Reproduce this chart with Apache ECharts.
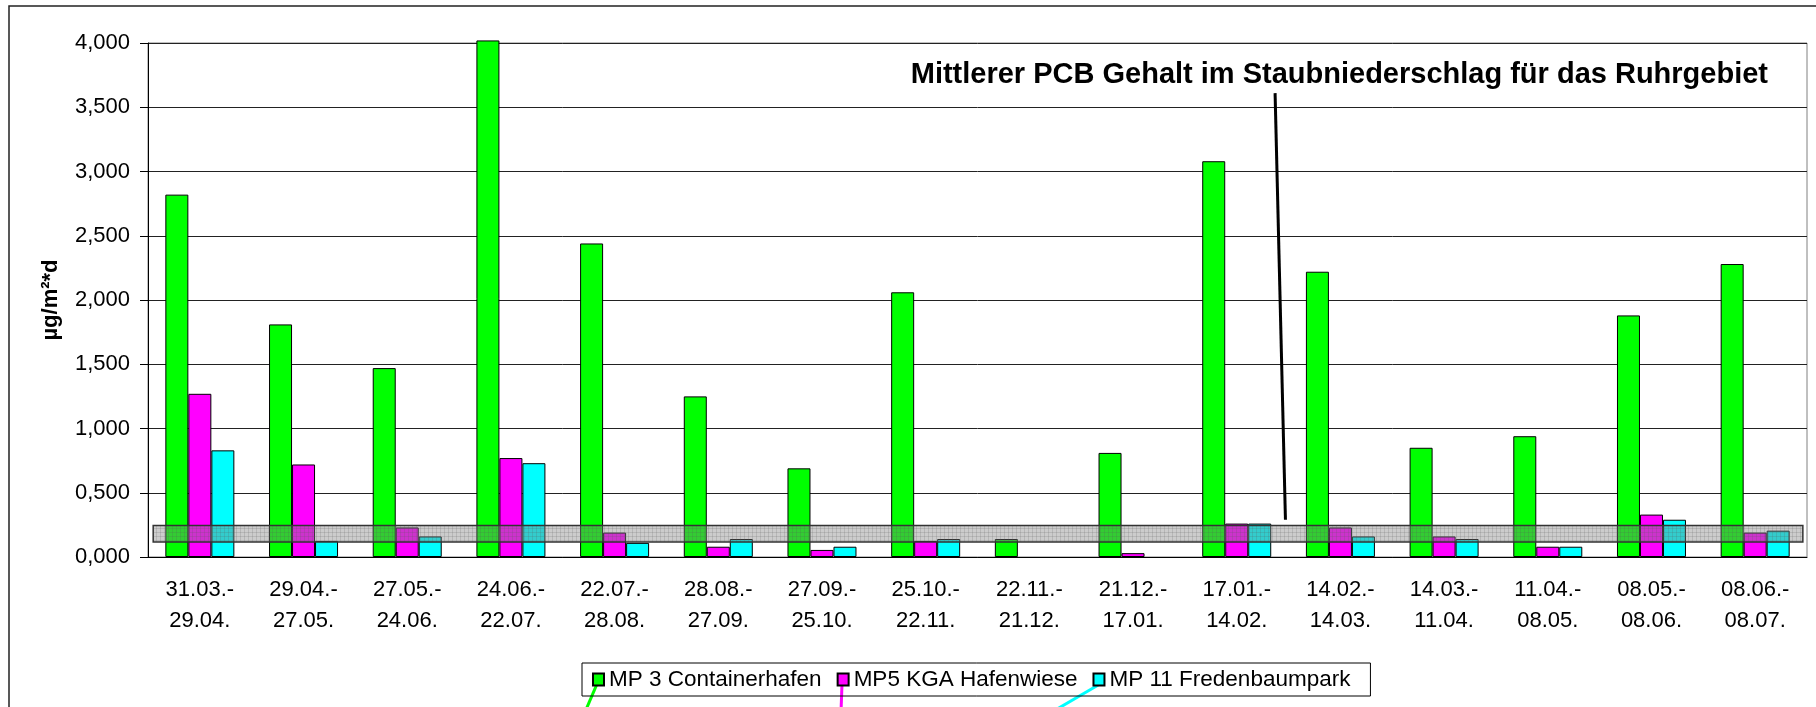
<!DOCTYPE html>
<html>
<head>
<meta charset="utf-8">
<title>PCB Staubniederschlag</title>
<script src="https://cdn.jsdelivr.net/npm/echarts@6/dist/echarts.min.js"></script>
<style>
    html, body { margin: 0; padding: 0; background: #fff; }
    #chart { width: 1816px; height: 707px; }
</style>
</head>
<body>
<div id="chart"></div>
<script>
// Messzeiträume
var categories = [
    '31.03.-\n29.04.', '29.04.-\n27.05.', '27.05.-\n24.06.', '24.06.-\n22.07.',
    '22.07.-\n28.08.', '28.08.-\n27.09.', '27.09.-\n25.10.', '25.10.-\n22.11.',
    '22.11.-\n21.12.', '21.12.-\n17.01.', '17.01.-\n14.02.', '14.02.-\n14.03.',
    '14.03.-\n11.04.', '11.04.-\n08.05.', '08.05.-\n08.06.', '08.06.-\n08.07.'
];
// µg/m²*d
var mp3 = [2.82, 1.81, 1.47, 4.02, 2.44, 1.25, 0.69, 2.06, 0.14, 0.81, 3.08, 2.22, 0.85, 0.94, 1.88, 2.28];
var mp5 = [1.27, 0.72, 0.23, 0.77, 0.19, 0.08, 0.055, 0.125, '-', 0.03, 0.26, 0.23, 0.16, 0.08, 0.33, 0.19];
var mp11 = [0.83, 0.125, 0.16, 0.73, 0.11, 0.14, 0.08, 0.14, '-', '-', 0.26, 0.16, 0.14, 0.08, 0.29, 0.205];

// mittlerer Gehalt Ruhrgebiet (Band) und Hinweislinie, in Achsenwerten
var bandY = [0.117, 0.246];
var bandX = [0.05, 15.96];
var pointerStart = [10.87, 3.61];
var pointerEnd = [10.97, 0.29];
var yTicks = [0, 4, 0.5];

var font = "'Liberation Sans', Arial, sans-serif";

// Rasterfüllung fürs Band
var pat = document.createElement('canvas');
pat.width = 4; pat.height = 4;
var pctx = pat.getContext('2d');
pctx.fillStyle = 'rgba(128,128,128,0.40)';
pctx.fillRect(0, 0, 4, 4);
pctx.fillStyle = 'rgba(90,90,90,0.18)';
pctx.fillRect(0, 0, 4, 1);
pctx.fillRect(0, 0, 1, 4);

function barSeries(name, data, color) {
    return {
        name: name,
        type: 'bar',
        data: data,
        barWidth: 23,
        barGap: 0,
        clip: false,
        itemStyle: { color: color, borderColor: '#000', borderWidth: 1 }
    };
}

var options = {
    animation: false,
    textStyle: { fontFamily: font, color: '#000' },
    grid: {
        left: 148, right: 9, top: 43, bottom: 150,
        show: true, borderColor: '#808080', borderWidth: 1
    },
    legend: {
        left: 582, top: 663,
        padding: [5, 20, 5, 10],
        borderColor: '#000', borderWidth: 1,
        itemWidth: 11, itemHeight: 12, itemGap: 15,
        icon: 'rect',
        textStyle: { fontSize: 22.5, fontFamily: font, color: '#000' },
        data: ['MP 3 Containerhafen', 'MP5 KGA Hafenwiese', 'MP 11 Fredenbaumpark']
    },
    title: {
        text: 'Mittlerer PCB Gehalt im Staubniederschlag für das Ruhrgebiet',
        right: 43, top: 55,
        textStyle: { fontSize: 29, fontWeight: 'bold', fontFamily: font, color: '#000' }
    },
    xAxis: [
        {
            type: 'category',
            data: categories,
            axisLine: { lineStyle: { color: '#000', width: 1 } },
            axisTick: { length: 7, lineStyle: { color: '#000' } },
            axisLabel: { fontSize: 22, lineHeight: 31, margin: 17, color: '#000', interval: 0 },
            splitLine: { show: false }
        },
        { type: 'value', min: 0, max: 16, show: false }
    ],
    yAxis: {
        type: 'value',
        min: yTicks[0], max: yTicks[1], interval: yTicks[2],
        name: 'µg/m²*d',
        nameLocation: 'middle',
        nameGap: 86,
        nameTextStyle: { fontSize: 22, fontWeight: 'bold', color: '#000' },
        axisLine: { show: true, lineStyle: { color: '#000' } },
        axisTick: { show: true, length: 8, lineStyle: { color: '#000' } },
        axisLabel: {
            fontSize: 22, margin: 18, color: '#000',
            formatter: function (v) { return v.toFixed(3).replace('.', ','); }
        },
        splitLine: { lineStyle: { color: '#222', width: 1 } }
    },
    series: [
        barSeries('MP 3 Containerhafen', mp3, '#00ff00'),
        barSeries('MP5 KGA Hafenwiese', mp5, '#ff00ff'),
        barSeries('MP 11 Fredenbaumpark', mp11, '#00ffff'),
        {
            name: 'PCB Ruhrgebiet',
            type: 'line',
            xAxisIndex: 1,
            data: [],
            z: 5,
            silent: true,
            markArea: {
                silent: true,
                z: 10,
                itemStyle: {
                    color: { image: pat, repeat: 'repeat' },
                    borderColor: '#333', borderWidth: 1.5
                },
                data: [[
                    { coord: [bandX[0], bandY[0]] },
                    { coord: [bandX[1], bandY[1]] }
                ]]
            },
            markLine: {
                silent: true,
                z: 10,
                symbol: 'none',
                label: { show: false },
                lineStyle: { color: '#000', width: 3, type: 'solid' },
                data: [[ { coord: pointerStart }, { coord: pointerEnd } ]]
            }
        }
    ],
    graphic: [
        // äußerer Rahmen (rechts und unten abgeschnitten)
        { type: 'rect', shape: { x: 9, y: 6, width: 1900, height: 800 },
          style: { fill: null, stroke: '#222', lineWidth: 1.5 }, silent: true },
        // Linien unter den Legendensymbolen
        { type: 'line', shape: { x1: 597, y1: 684, x2: 585, y2: 712 },
          style: { stroke: '#00ff00', lineWidth: 3 }, silent: true },
        { type: 'line', shape: { x1: 842, y1: 684, x2: 841, y2: 712 },
          style: { stroke: '#ff00ff', lineWidth: 3 }, silent: true },
        { type: 'line', shape: { x1: 1100, y1: 684, x2: 1052, y2: 712 },
          style: { stroke: '#00ffff', lineWidth: 3 }, silent: true }
    ]
};

var myChart = echarts.init(document.getElementById('chart'));
myChart.setOption(options);
</script>
</body>
</html>
